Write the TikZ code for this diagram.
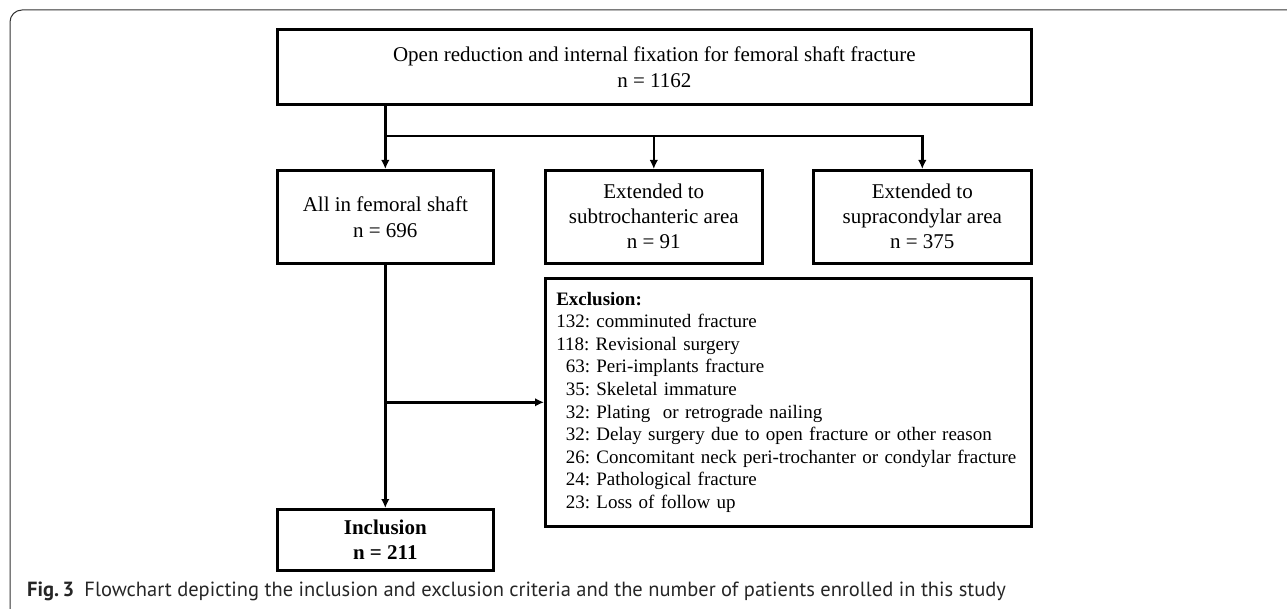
\documentclass[tikz,border=0pt]{standalone}
\usepackage{fontspec}
\setmainfont{Liberation Serif}
\newfontfamily\capfont{PT Sans}
\usetikzlibrary{shapes,arrows.meta,positioning}

\begin{document}
\begin{tikzpicture}[x=1pt,y=-1pt,>={Latex[length=9pt,width=8.5pt]},
    block/.style={draw=black,line width=2.6pt,align=center,inner sep=0pt,anchor=north west,
      font=\fontsize{21}{26}\selectfont},
    link/.style={line width=2.4pt}]
    \useasboundingbox (0,0) rectangle (1287,609);
    % frame of the figure
    \draw[line width=1pt,black!80,rounded corners=12pt] (10,609) -- (10,10) -- (1287,10);

    \node[block,minimum width=754pt,minimum height=75pt] (orif) at (276,28)
      {Open reduction and internal fixation for femoral shaft fracture\\n = 1162};
    \node[block,minimum width=216pt,minimum height=93pt] (shaft) at (276,169)
      {All in femoral shaft\\n = 696};
    \node[block,minimum width=217pt,minimum height=93pt,font=\fontsize{21}{25}\selectfont] (subtroch) at (544,169)
      {Extended to\\subtrochanteric area\\n = 91};
    \node[block,minimum width=218pt,minimum height=93pt,font=\fontsize{21}{25}\selectfont] (supracon) at (812,169)
      {Extended to\\supracondylar area\\n = 375};
    \node[block,align=left,inner xsep=11pt,text width=464pt,minimum height=248pt,
      font=\fontsize{19}{22.6}\selectfont\frenchspacing] (excl) at (544,277)
      {\textbf{Exclusion:}\\
       132: comminuted fracture\\
       118: Revisional surgery\\
       \phantom{1}63: Peri-implants fracture\\
       \phantom{1}35: Skeletal immature\\
       \phantom{1}32: Plating\ \ or retrograde nailing\\
       \phantom{1}32: Delay surgery due to open fracture or other reason\\
       \phantom{1}26: Concomitant neck peri-trochanter or condylar fracture\\
       \phantom{1}24: Pathological fracture\\
       \phantom{1}23: Loss of follow up};
    \node[block,minimum width=216pt,minimum height=61pt,font=\bfseries\fontsize{21}{25}\selectfont] (incl) at (276,508)
      {Inclusion\\n = 211};

    % connectors
    \coordinate (fork) at (shaft.north |- 0,136);
    \draw[link,->] (orif.south -| shaft.north) -- (shaft.north);
    \draw[link,->] (fork) -| (subtroch.north);
    \draw[link,->] (fork) -| (supracon.north);
    \draw[link,->] (shaft.south) -- (incl.north);
    \coordinate (split) at (shaft.south |- excl.west);
    \draw[link,->] (split) -- (excl.west);

    \node[anchor=west,inner sep=0pt,text=black!85,font=\capfont\fontsize{20.5}{23}\selectfont] (caption) at (27,591)
      {\textbf{Fig.\,3}\enspace Flowchart depicting the inclusion and exclusion criteria and the number of patients enrolled in this study};
\end{tikzpicture}
\end{document}
